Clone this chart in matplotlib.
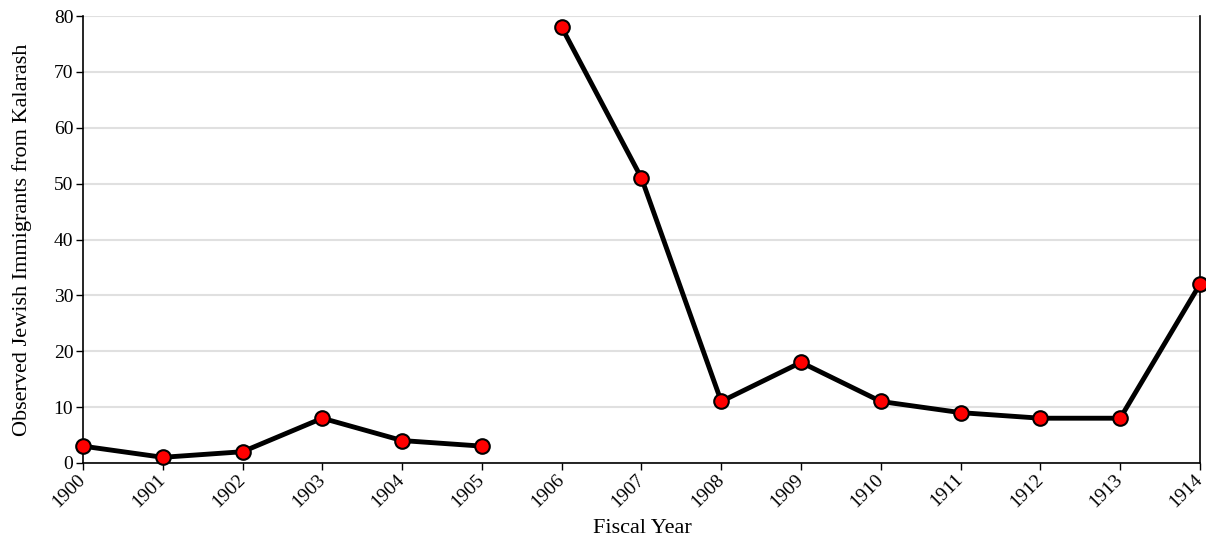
import numpy as np
import matplotlib
matplotlib.use('Agg')
import matplotlib.pyplot as plt

plt.rcParams['font.family'] = ['Liberation Serif', 'DejaVu Serif']

years = [1900, 1901, 1902, 1903, 1904, 1905, 1906, 1907, 1908, 1909, 1910, 1911, 1912, 1913, 1914]
immigrants = [3, 1, 2, 8, 4, 3, 78, 51, 11, 18, 11, 9, 8, 8, 32]
# series is broken between 1905 and 1906
segments = [(0, 6), (6, 15)]

fig = plt.figure(figsize=(12.06, 5.37), dpi=100)
ax = fig.add_axes([0.0688, 0.138, 0.9262, 0.832])

for a, b in segments:
    ax.plot(years[a:b], immigrants[a:b], color='black', lw=3.5, zorder=3,
            marker='o', markersize=10.5, markerfacecolor='#ff0000',
            markeredgecolor='black', markeredgewidth=1.5, clip_on=False)

ax.set_xlim(1900, 1914)
ax.set_ylim(0, 80)
ax.set_xticks(years)
ax.set_xticklabels([str(y) for y in years], rotation=45, ha='right', va='center',
                   rotation_mode='anchor')
ax.set_yticks(np.arange(0, 81, 10))
ax.tick_params(labelsize=14, length=5, width=1, color='black', pad=2)
ax.tick_params(axis='x', pad=5)
ax.yaxis.grid(True, color='#e0e0e0', lw=1.5)
ax.set_axisbelow(True)
ax.spines['top'].set_visible(False)
for s in ['right', 'left', 'bottom']:
    ax.spines[s].set_linewidth(1.2)

ax.set_xlabel('Fiscal Year', fontsize=16)
ax.set_ylabel('Observed Jewish Immigrants from Kalarash', fontsize=16)
ax.xaxis.set_label_coords(0.501, -0.125)
ax.yaxis.set_label_coords(-0.0455, 0.5)

fig.savefig('out.png', dpi=100)
